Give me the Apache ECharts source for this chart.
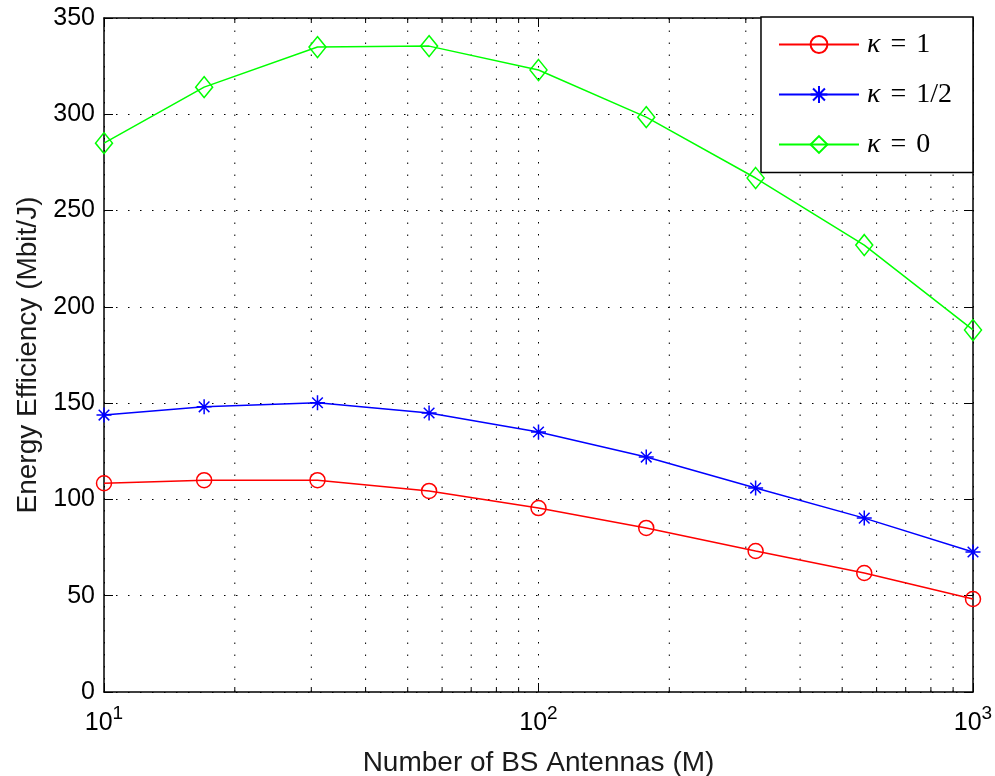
<!DOCTYPE html>
<html>
<head>
<meta charset="utf-8">
<script src="https://cdn.jsdelivr.net/npm/echarts@6/dist/echarts.min.js"></script>
<style>
html,body{margin:0;padding:0;background:#fff;}
#chart{width:995px;height:776px;}
</style>
</head>
<body>
<div id="chart"></div>
<script>
// ---- data ----
const antennas = [10, 17, 31, 56, 100, 177, 316, 562, 1000];
const eeKappa1 = [108.4, 110, 110, 104.4, 95.5, 85.2, 73.2, 61.8, 48.3];
const eeKappaHalf = [143.8, 148.1, 150.2, 144.9, 135, 122, 105.9, 90.3, 72.7];
const eeKappa0 = [285, 314.1, 334.9, 335.4, 323, 298.5, 266.9, 232.1, 188];
const seriesNames = ['κ = 1', 'κ = 1/2', 'κ = 0'];
const legendValues = ['1', '1/2', '0'];
const minorTicks = [20, 30, 40, 50, 60, 70, 80, 90, 200, 300, 400, 500, 600, 700, 800, 900];
const xTickExp = {10: '1', 100: '2', 1000: '3'};

const toPairs = (ys) => antennas.map((x, i) => [x, ys[i]]);
const starPath = 'path://M0,-10 L0,10 M-10,0 L10,0 M-7.07,-7.07 L7.07,7.07 M-7.07,7.07 L7.07,-7.07';
const dotted = [1.5, 10.5];

const chart = echarts.init(document.getElementById('chart'), null, {renderer: 'canvas'});

function mkSeries(name, ys, color, symbol, size) {
  return {
    name: name,
    type: 'line',
    data: toPairs(ys),
    symbol: symbol,
    symbolSize: size,
    showAllSymbol: true,
    lineStyle: {color: color, width: 1.5},
    itemStyle: {color: 'transparent', borderColor: color, borderWidth: 1.5},
    emphasis: {disabled: true},
    z: 5
  };
}

const option = {
  animation: false,
  backgroundColor: '#fff',
  textStyle: {fontFamily: 'Liberation Sans'},
  grid: {left: 104, right: 22, top: 18, bottom: 84, containLabel: false, outerBoundsMode: 'none'},
  legend: {
    data: seriesNames,
    right: 22,
    top: 17,
    orient: 'vertical',
    backgroundColor: '#fff',
    borderColor: '#000',
    borderWidth: 1.5,
    borderRadius: 0,
    padding: [13.5, 21, 14, 17],
    itemWidth: 80,
    itemHeight: 21,
    itemGap: 22,
    formatter: function (name) {
      const i = seriesNames.indexOf(name);
      return '{k|κ}{e|=}{t|' + legendValues[i] + '}';
    },
    textStyle: {
      color: '#000',
      fontSize: 28,
      fontFamily: 'Liberation Serif',
      padding: [0, 0, 0, 3],
      rich: {
        k: {fontFamily: 'Liberation Serif', fontStyle: 'italic', fontSize: 28, color: '#000'},
        e: {fontFamily: 'Liberation Serif', fontSize: 28, color: '#000', padding: [0, 10, 0, 10]},
        t: {fontFamily: 'Liberation Serif', fontSize: 28, color: '#000'}
      }
    }
  },
  xAxis: [
    {
      type: 'log', logBase: 10, min: 10, max: 1000,
      position: 'bottom',
      name: 'Number of BS Antennas (M)',
      nameLocation: 'middle',
      nameGap: 57,
      nameTextStyle: {fontSize: 28, color: '#1a1a1a', fontFamily: 'Liberation Sans'},
      axisLine: {onZero: false, lineStyle: {color: '#000', width: 1.5}},
      axisTick: {inside: true, length: 9, lineStyle: {color: '#000', width: 1}},
      splitLine: {show: true, lineStyle: {color: '#000', width: 1, type: dotted}},
      axisLabel: {
        margin: 12,
        color: '#000',
        formatter: function (v) {
          const e = xTickExp[Math.round(v)];
          return '{b|10}{s|' + (e || '') + '}';
        },
        rich: {
          b: {fontSize: 25, fontFamily: 'Liberation Sans', color: '#000', lineHeight: 32, verticalAlign: 'bottom'},
          s: {fontSize: 19, fontFamily: 'Liberation Sans', color: '#000', lineHeight: 23, verticalAlign: 'top'}
        }
      }
    },
    {
      type: 'log', logBase: 10, min: 10, max: 1000,
      position: 'top',
      axisLine: {onZero: false, lineStyle: {color: '#000', width: 1.5}},
      axisTick: {inside: true, length: 9, lineStyle: {color: '#000', width: 1}},
      axisLabel: {show: false},
      splitLine: {show: false}
    }
  ],
  yAxis: [
    {
      type: 'value', min: 0, max: 350, interval: 50,
      position: 'left',
      name: 'Energy Efficiency (Mbit/J)',
      nameLocation: 'middle',
      nameGap: 62,
      nameTextStyle: {fontSize: 28, color: '#1a1a1a', fontFamily: 'Liberation Sans'},
      axisLine: {onZero: false, lineStyle: {color: '#000', width: 1.5}},
      axisTick: {inside: true, length: 9, lineStyle: {color: '#000', width: 1}},
      splitLine: {show: true, lineStyle: {color: '#000', width: 1, type: dotted}},
      axisLabel: {fontSize: 25, color: '#000', margin: 9, fontFamily: 'Liberation Sans'}
    },
    {
      type: 'value', min: 0, max: 350, interval: 50,
      position: 'right',
      axisLine: {onZero: false, lineStyle: {color: '#000', width: 1.5}},
      axisTick: {inside: true, length: 9, lineStyle: {color: '#000', width: 1}},
      axisLabel: {show: false},
      splitLine: {show: false}
    }
  ],
  series: [
    {
      type: 'custom',
      silent: true,
      z: 1,
      xAxisIndex: 0,
      yAxisIndex: 0,
      encode: {x: 0, y: 1},
      data: minorTicks.map(v => [v, 0]),
      renderItem: function (params, api) {
        const x = api.coord([api.value(0), 0])[0];
        const cs = params.coordSys;
        const top = cs.y, bottom = cs.y + cs.height;
        return {
          type: 'group',
          children: [
            {type: 'line', shape: {x1: x, y1: bottom, x2: x, y2: top},
             style: {stroke: '#000', lineWidth: 1, lineDash: dotted}},
            {type: 'line', shape: {x1: x, y1: bottom, x2: x, y2: bottom - 5},
             style: {stroke: '#000', lineWidth: 1}},
            {type: 'line', shape: {x1: x, y1: top, x2: x, y2: top + 5},
             style: {stroke: '#000', lineWidth: 1}}
          ]
        };
      }
    },
    mkSeries(seriesNames[0], eeKappa1, '#ff0000', 'circle', 15),
    mkSeries(seriesNames[1], eeKappaHalf, '#0000ff', starPath, 15),
    mkSeries(seriesNames[2], eeKappa0, '#00ff00', 'diamond', [17, 21])
  ]
};
chart.setOption(option);
</script>
</body>
</html>
